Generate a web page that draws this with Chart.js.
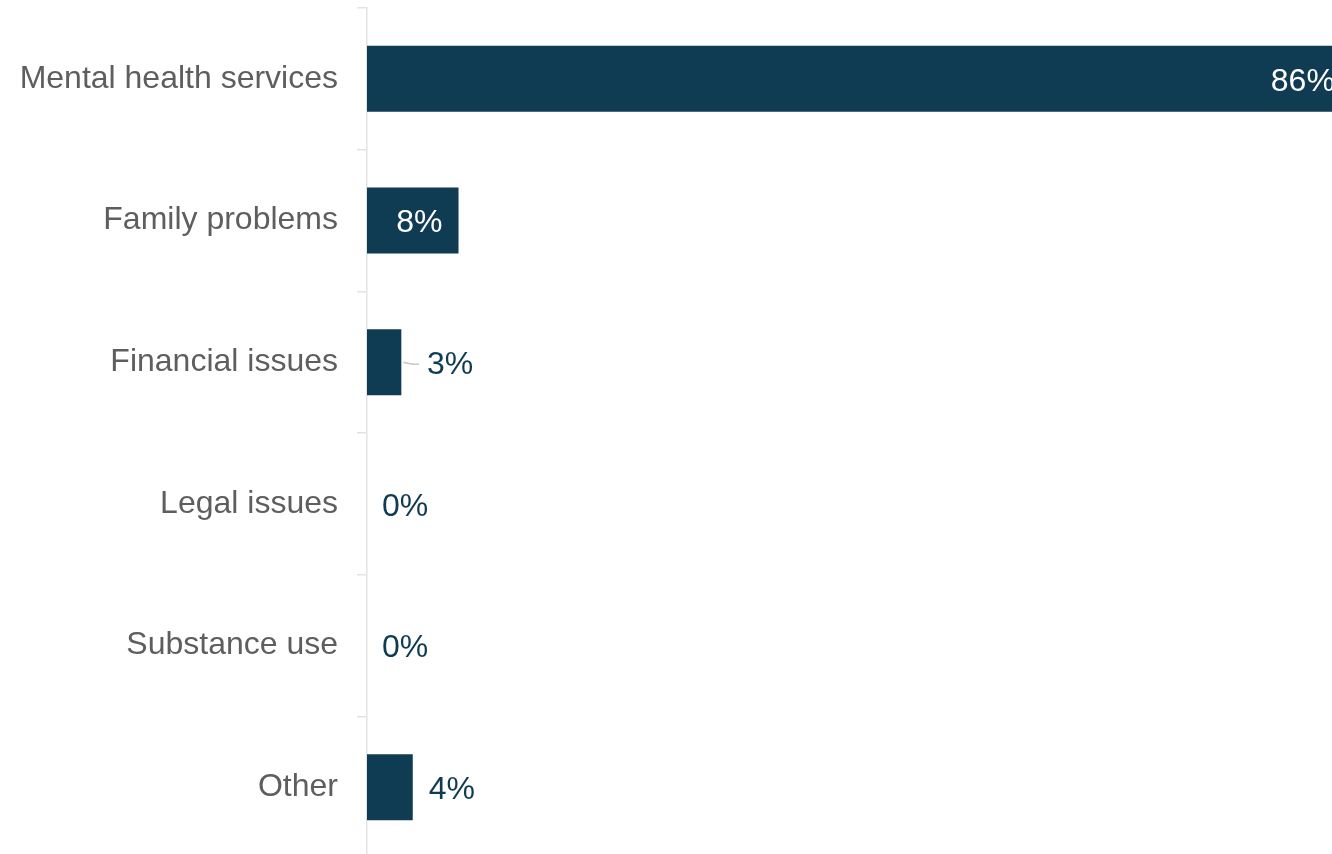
<!DOCTYPE html>
<html>
<head>
<meta charset="utf-8">
<script src="https://cdn.jsdelivr.net/npm/chart.js@4/dist/chart.umd.min.js"></script>
<style>
  html, body { margin: 0; padding: 0; background: #ffffff; overflow: hidden; }
  #wrap { position: relative; width: 1332px; height: 854px; overflow: hidden; }
  #chart { position: absolute; left: 0; top: 0; }
</style>
</head>
<body>
<div id="wrap"><canvas id="chart" width="1524" height="870"></canvas></div>
<script>
// Reasons given for reaching out (share of responses, %)
const categories = ['Mental health services', 'Family problems', 'Financial issues', 'Legal issues', 'Substance use', 'Other'];
const shares = [86, 8, 3, 0, 0, 4];

const BAR_COLOR = '#0f3b53';
const FONT = '"Liberation Sans", Arial, Helvetica, sans-serif';

// Value labels: white inside long bars, dark beside short ones,
// with a small leader line when the bar is too narrow to sit next to.
const valueLabels = {
  id: 'valueLabels',
  afterDatasetsDraw(chart) {
    const ctx = chart.ctx;
    const meta = chart.getDatasetMeta(0);
    const base = chart.scales.x.getPixelForValue(0);
    ctx.save();
    ctx.font = '32px ' + FONT;
    ctx.textBaseline = 'middle';
    meta.data.forEach((bar, i) => {
      const v = shares[i];
      const text = v + '%';
      const y = bar.y + 3;
      const w = bar.x - base;
      if (w > 80) {
        ctx.fillStyle = '#ffffff';
        ctx.textAlign = 'right';
        ctx.fillText(text, bar.x - 16, y);
      } else if (v === 0) {
        ctx.fillStyle = BAR_COLOR;
        ctx.textAlign = 'left';
        ctx.fillText(text, base + 15, y);
      } else if (w < 36) {
        const lx = base + 60;
        ctx.strokeStyle = '#c9c9c9';
        ctx.lineWidth = 1.5;
        ctx.beginPath();
        ctx.moveTo(bar.x + 2, bar.y);
        ctx.quadraticCurveTo(bar.x + 10, bar.y + 2, bar.x + 14, bar.y + 2);
        ctx.lineTo(lx - 8, bar.y + 2);
        ctx.stroke();
        ctx.fillStyle = BAR_COLOR;
        ctx.textAlign = 'left';
        ctx.fillText(text, lx, y);
      } else {
        ctx.fillStyle = BAR_COLOR;
        ctx.textAlign = 'left';
        ctx.fillText(text, bar.x + 16, y);
      }
    });
    ctx.restore();
  }
};

new Chart(document.getElementById('chart'), {
  type: 'bar',
  data: {
    labels: categories,
    datasets: [{
      data: shares,
      backgroundColor: BAR_COLOR,
      borderWidth: 0,
      categoryPercentage: 1,
      barPercentage: 0.466
    }]
  },
  options: {
    indexAxis: 'y',
    responsive: false,
    animation: false,
    events: [],
    layout: { padding: { top: 8, bottom: 12, right: 13, left: 0 } },
    plugins: {
      legend: { display: false },
      tooltip: { enabled: false }
    },
    scales: {
      x: {
        display: false,
        min: 0,
        max: 100
      },
      y: {
        afterFit(scale) {
          scale.width = 367;
          scale.paddingTop = 0;
          scale.paddingBottom = 0;
        },
        grid: {
          drawOnChartArea: false,
          drawTicks: true,
          tickLength: 10,
          color: '#e3e3e3',
          lineWidth: 1.5
        },
        border: { display: true, color: '#e3e3e3', width: 1.5 },
        ticks: {
          color: '#5e5e5e',
          padding: 19,
          font: { family: FONT, size: 32 }
        }
      }
    }
  },
  plugins: [valueLabels]
});
</script>
</body>
</html>
